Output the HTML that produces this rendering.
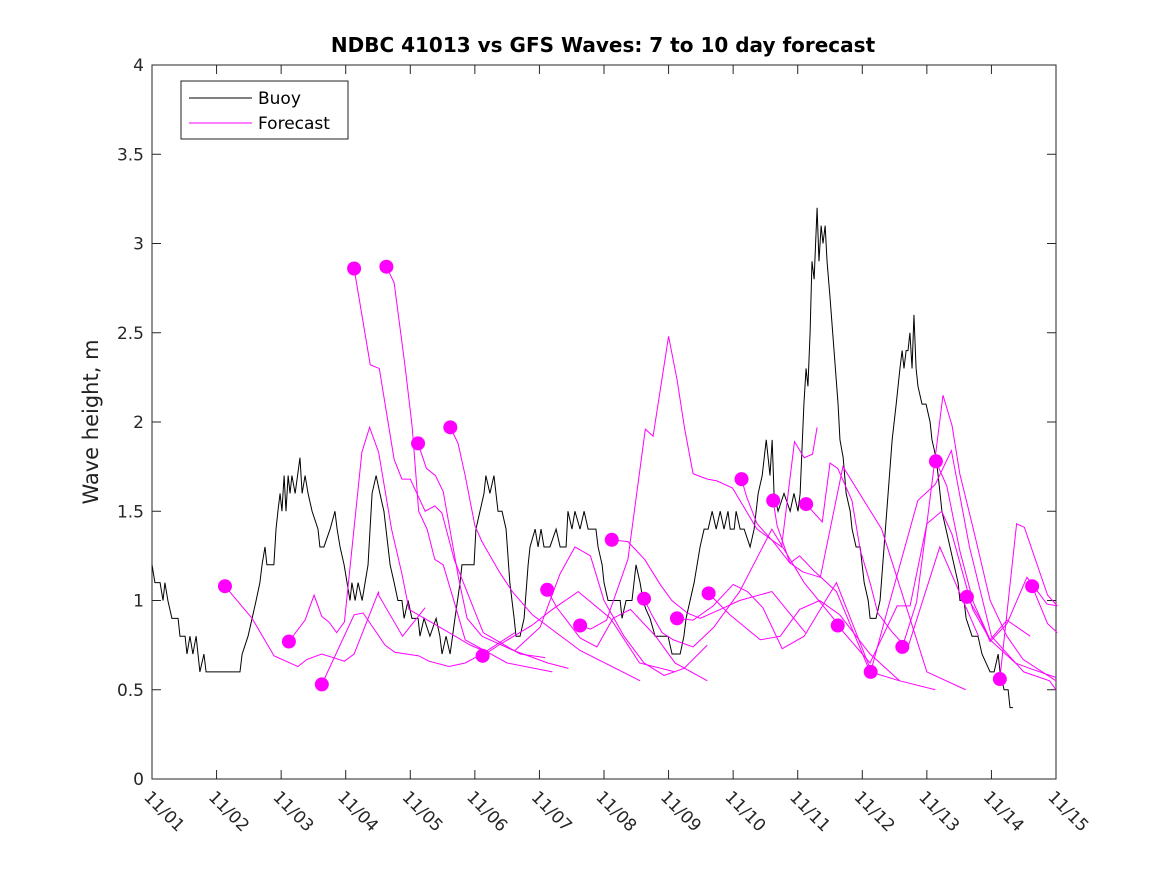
<!DOCTYPE html>
<html><head><meta charset="utf-8">
<style>
html,body{margin:0;padding:0;background:#fff;}
svg{display:block;font-family:"DejaVu Sans","Liberation Sans",sans-serif;}
</style></head>
<body>
<svg id="chart" width="1167" height="875" viewBox="0 0 1167 875" xmlns="http://www.w3.org/2000/svg">
<rect width="1167" height="875" fill="#fff"/>
<text x="603" y="52" text-anchor="middle" font-size="20" font-weight="bold" fill="#000">NDBC 41013 vs GFS Waves: 7 to 10 day forecast</text>
<text transform="translate(98,422) rotate(-90)" text-anchor="middle" font-size="21" fill="#222">Wave height, m</text>
<g id="axes"></g>
<g id="series"></g>
<g id="legend">
<rect x="181" y="81" width="167" height="58" fill="#fff" stroke="#222" stroke-width="1"/>
<line x1="189" y1="98" x2="252" y2="98" stroke="#000" stroke-width="1"/>
<text x="258" y="104" font-size="17" fill="#000">Buoy</text>
<line x1="189" y1="123" x2="252" y2="123" stroke="#f0f" stroke-width="1"/>
<text x="258" y="129" font-size="17" fill="#000">Forecast</text>
</g>
</svg>
<script>
const xTickLabels = ["11/01","11/02","11/03","11/04","11/05","11/06","11/07","11/08","11/09","11/10","11/11","11/12","11/13","11/14","11/15"];
const yTickValues = [0,0.5,1,1.5,2,2.5,3,3.5,4];
const yTickLabels = ["0","0.5","1","1.5","2","2.5","3","3.5","4"];
// buoy observations: hours since 11/01 00:00 and wave height (m)
const buoyHours = [0,1.1,3,4.1,4.8,5.9,7.4,9.7,10.4,12.3,13,14.1,15.2,16.4,17.1,17.8,19.3,20.1,32.7,33.5,35.7,37.2,38.7,40.1,40.9,42,42.7,45.3,46.1,46.8,47.6,48.3,49.1,49.8,50.6,51.3,52,53.2,55,55.8,56.9,58,59.5,61.7,62.4,63.9,66.2,68,68.8,69.9,71.4,72.5,73.6,74.3,75.5,76.6,78.1,80.3,81.8,83.3,84.7,86.2,88.5,90,91.4,92.9,93.7,95.2,96.6,98.9,99.6,101.1,103.3,105.6,107,107.8,109.3,110.8,112.6,114.5,115.2,118.2,119.7,120.4,121.9,123.4,124.1,125.6,127.1,128.6,130.1,131.6,133,134.6,135.3,136.8,138.3,139.8,140.5,142.4,143.5,144.6,145.7,147.9,150.2,151.7,153.9,154.6,156.1,157.2,159.1,160.6,162.1,165,165.8,167.3,168,169.5,174,174.7,176.2,178.4,179.9,181.4,182.5,183.6,185.1,187,188.8,191.8,193.3,196.3,197.7,198.5,200,201.5,203.7,205.2,206.7,208.2,209.7,211.2,212.6,214.1,214.9,216.4,217.1,218.6,220.1,222.3,223.8,225.3,226.8,228.3,229.7,230.5,231.2,232.7,234.9,237.2,238.6,240.1,240.9,242.3,243.1,243.8,244.6,245.3,246.1,247.2,247.9,248.7,249.4,250.2,250.9,252,253.5,255,255.7,256.9,258,259.5,260.2,261.7,263.2,264.7,266.2,266.9,269.1,270.6,272.1,273.6,275.1,276.6,278,278.8,279.5,280.3,281,281.7,282.5,283.2,284,284.7,286.2,287.7,289.2,289.9,291.4,292.2,293.6,295.1,296.6,298.1,299.6,300.3,301.8,302.6,304.8,307,308.5,310,311.5,313,314.5,315.2,316.7,318.2,318.9,320];
const buoyValues = [1.2,1.1,1.1,1.0,1.1,1.0,0.9,0.9,0.8,0.8,0.7,0.8,0.7,0.8,0.7,0.6,0.7,0.6,0.6,0.7,0.8,0.9,1.0,1.1,1.2,1.3,1.2,1.2,1.4,1.5,1.6,1.5,1.7,1.5,1.7,1.6,1.7,1.6,1.8,1.6,1.7,1.6,1.5,1.4,1.3,1.3,1.4,1.5,1.4,1.3,1.2,1.1,1.0,1.1,1.0,1.1,1.0,1.2,1.6,1.7,1.6,1.5,1.2,1.1,1.0,1.0,0.9,1.0,0.9,0.9,0.8,0.9,0.8,0.9,0.8,0.7,0.8,0.7,0.9,1.1,1.2,1.2,1.2,1.4,1.5,1.6,1.7,1.6,1.7,1.5,1.5,1.4,1.1,0.9,0.8,0.8,0.9,1.2,1.3,1.4,1.3,1.4,1.3,1.3,1.4,1.3,1.3,1.5,1.4,1.5,1.4,1.5,1.4,1.4,1.3,1.2,1.1,1.0,1.0,0.9,1.0,1.0,1.2,1.1,1.0,0.95,0.9,0.8,0.8,0.8,0.7,0.7,0.8,0.9,1.0,1.1,1.3,1.4,1.4,1.5,1.4,1.5,1.4,1.5,1.4,1.4,1.5,1.4,1.4,1.3,1.4,1.6,1.7,1.9,1.7,1.9,1.6,1.5,1.6,1.5,1.6,1.5,1.6,2.1,2.3,2.2,2.5,2.9,2.8,3.2,2.9,3.1,3.0,3.1,2.9,2.7,2.4,2.1,1.9,1.8,1.6,1.5,1.4,1.3,1.3,1.1,1.0,0.9,0.9,1.0,1.3,1.6,1.9,2.1,2.3,2.4,2.3,2.4,2.4,2.5,2.3,2.6,2.3,2.2,2.1,2.1,2.0,1.9,1.8,1.7,1.5,1.4,1.3,1.2,1.1,1.0,1.0,0.9,0.8,0.8,0.7,0.65,0.6,0.6,0.7,0.6,0.5,0.5,0.4,0.4];
const fcDays = [
 [1.13,1.55,1.89,2.26,2.40,2.63,2.98,3.13,3.51,3.51,3.88,4.23],
 [2.12,2.37,2.51,2.63,2.74,2.86,2.98,3.25,3.37,3.51,3.71,3.87,3.98,4.46,4.93,5.13],
 [2.63,3.13,3.27,3.61,3.76,4.13,4.29,4.60,4.85,5.11,5.62],
 [3.13,3.38,3.52,3.75,3.87,4.00,4.23,4.38,4.49,4.68,5.13,5.70,6.09],
 [3.63,3.75,3.92,4.03,4.13,4.26,4.38,4.51,4.69,4.85,5.50,6.20],
 [4.12,4.25,4.39,4.51,4.75,4.88,5.11,5.60,6.13,6.45],
 [4.62,4.74,4.85,5.00,5.11,5.38,5.58,5.89,6.63,7.56],
 [5.12,5.37,5.88,6.20,6.60,7.10,7.55,8.10],
 [5.62,6.01,6.32,6.55,6.79,7.00,7.31,7.62,7.93,8.24,8.60],
 [6.12,6.27,6.42,6.63,6.89,7.14,7.41,7.80,8.10,8.60],
 [6.63,6.79,7.04,7.37,7.64,7.76,8.00,8.13,8.25,8.38,8.60,8.75,8.99,9.37,9.75,9.95,10.10,10.23,10.30],
 [7.12,7.37,7.63,7.87,8.05,8.29,8.49,8.80,9.10,9.60,10.12],
 [7.62,7.74,7.90,8.07,8.38,8.70,9.10,9.60,10.10,10.62],
 [8.13,8.38,8.69,9.00,9.22,9.46,9.76,10.10,10.60,11.12],
 [8.62,8.95,9.42,9.73,10.03,10.34,10.65,11.12,11.58],
 [9.13,9.21,9.37,9.62,9.88,10.03,10.24,10.60,11.12,11.58,12.13],
 [9.62,9.68,9.88,10.08,10.35,10.70,11.30,12.00,12.60],
 [10.13,10.38,10.50,10.62,10.84,10.97,11.12,11.24,11.47,11.70,12.20,12.80],
 [10.62,11.12,11.54,11.74,12.00,12.23,12.39,12.71,12.98,13.24,13.60],
 [11.13,11.40,11.86,12.13,12.38,12.66,13.00,13.50,13.90,14.00],
 [11.62,11.84,12.00,12.25,12.39,12.51,12.72,12.98,13.24,13.49,14.00],
 [12.14,12.31,12.51,12.72,12.98,13.37,13.59,13.99],
 [12.62,12.82,12.98,13.24,13.55,13.86,14.02],
 [13.13,13.39,13.51,13.87,14.02],
 [13.63,13.87,14.02]
];
const fcValues = [
 [1.08,0.90,0.69,0.63,0.67,0.70,0.66,0.70,1.05,1.03,0.80,0.96],
 [0.77,0.89,1.03,0.91,0.88,0.82,0.88,1.83,1.97,1.83,1.40,1.15,0.95,0.85,0.75,0.72],
 [0.53,0.92,0.93,0.75,0.71,0.69,0.66,0.63,0.65,0.70,0.82],
 [2.86,2.32,2.30,1.79,1.68,1.68,1.50,1.53,1.49,1.23,0.82,0.70,0.68],
 [2.87,2.78,2.31,1.97,1.50,1.40,1.23,1.20,0.98,0.78,0.65,0.60],
 [1.88,1.74,1.70,1.61,1.12,0.90,0.80,0.72,0.65,0.62],
 [1.97,1.88,1.70,1.42,1.33,1.16,1.05,0.92,0.72,0.55],
 [0.69,0.75,0.86,0.95,1.05,0.90,0.65,0.60],
 [0.72,0.85,1.15,1.30,1.25,1.00,0.80,0.65,0.58,0.62,0.75],
 [1.06,0.96,0.89,0.79,0.74,0.90,0.95,0.80,0.65,0.55],
 [0.86,0.84,0.89,1.23,1.96,1.92,2.48,2.24,1.96,1.71,1.68,1.67,1.63,1.40,1.30,1.89,1.80,1.82,1.97],
 [1.34,1.33,1.23,1.09,1.00,0.93,0.90,0.95,1.00,1.05,0.82],
 [1.01,0.92,0.82,0.78,0.74,0.85,1.05,1.40,1.10,0.87],
 [0.90,0.89,0.97,1.09,1.05,0.96,0.73,0.80,1.10,0.62],
 [1.04,0.92,0.78,0.80,0.95,1.00,0.92,0.70,0.55],
 [1.68,1.58,1.43,1.33,1.21,1.25,1.17,1.05,0.60,0.55,0.50],
 [1.56,1.42,1.21,1.16,1.13,1.75,1.40,0.60,0.50],
 [1.54,1.44,1.77,1.74,1.56,1.28,1.10,0.93,0.82,0.73,1.30,0.80],
 [0.86,0.65,0.97,0.97,1.43,1.50,1.37,0.95,0.78,0.89,0.80],
 [0.60,0.96,1.56,1.65,1.84,1.30,0.80,0.60,0.55,0.50],
 [0.74,0.99,1.43,2.15,1.98,1.71,1.40,1.00,0.80,0.67,0.55],
 [1.78,1.64,1.28,0.99,0.78,0.65,0.62,0.57],
 [1.02,0.90,0.77,0.87,1.13,0.98,0.97],
 [0.56,1.43,1.41,1.03,0.97],
 [1.08,0.87,0.82]
];
const X0=152, X1=1056, Y0=779, Y1=65, DAYS=14, YMAX=4;
const xs = d => X0 + d*(X1-X0)/DAYS;
const ys = v => Y0 - v*(Y0-Y1)/YMAX;
const NS="http://www.w3.org/2000/svg";
function mk(tag, attrs, parent){const e=document.createElementNS(NS,tag);for(const k in attrs)e.setAttribute(k,attrs[k]);parent.appendChild(e);return e;}
const axes=document.getElementById('axes'), series=document.getElementById('series');
const frame=mk('rect',{x:X0,y:Y1,width:X1-X0,height:Y0-Y1,fill:'none',stroke:'#262626','stroke-width':1},axes);


yTickValues.forEach((v,i)=>{
  const y=ys(v);
  mk('line',{x1:X0,y1:y,x2:X0+9,y2:y,stroke:'#262626'},axes);
  mk('line',{x1:X1,y1:y,x2:X1-9,y2:y,stroke:'#262626'},axes);
  const t=mk('text',{x:X0-8,y:y+6,'text-anchor':'end','font-size':17,fill:'#262626'},axes);
  t.textContent=yTickLabels[i];
  
  
});
xTickLabels.forEach((lab,i)=>{
  const x=xs(i);
  mk('line',{x1:x,y1:Y0,x2:x,y2:Y0-9,stroke:'#262626'},axes);
  mk('line',{x1:x,y1:Y1,x2:x,y2:Y1+9,stroke:'#262626'},axes);
  const t=mk('text',{transform:`translate(${x-9},${Y0+19}) rotate(45)`,'font-size':17,fill:'#262626'},axes);
  t.textContent=lab;
  
  
});
const pts=buoyValues.map((v,i)=>xs(buoyHours[i]/24)+','+ys(v));
const bl=mk('polyline',{points:pts.join(' '),fill:'none',stroke:'#000','stroke-width':1},series);


fcDays.forEach((ds,k)=>{
  const vs=fcValues[k];
  const p=ds.map((d,i)=>xs(d)+','+ys(vs[i])).join(' ');
  const l=mk('polyline',{points:p,fill:'none',stroke:'#ff00ff','stroke-width':1},series);
  
  
});
fcDays.forEach((ds,k)=>{
  if(k===8) return;
  const c=mk('circle',{cx:xs(ds[0]),cy:ys(fcValues[k][0]),r:7,fill:'#ff00ff'},series);
  
  
});
</script>
</body></html>
